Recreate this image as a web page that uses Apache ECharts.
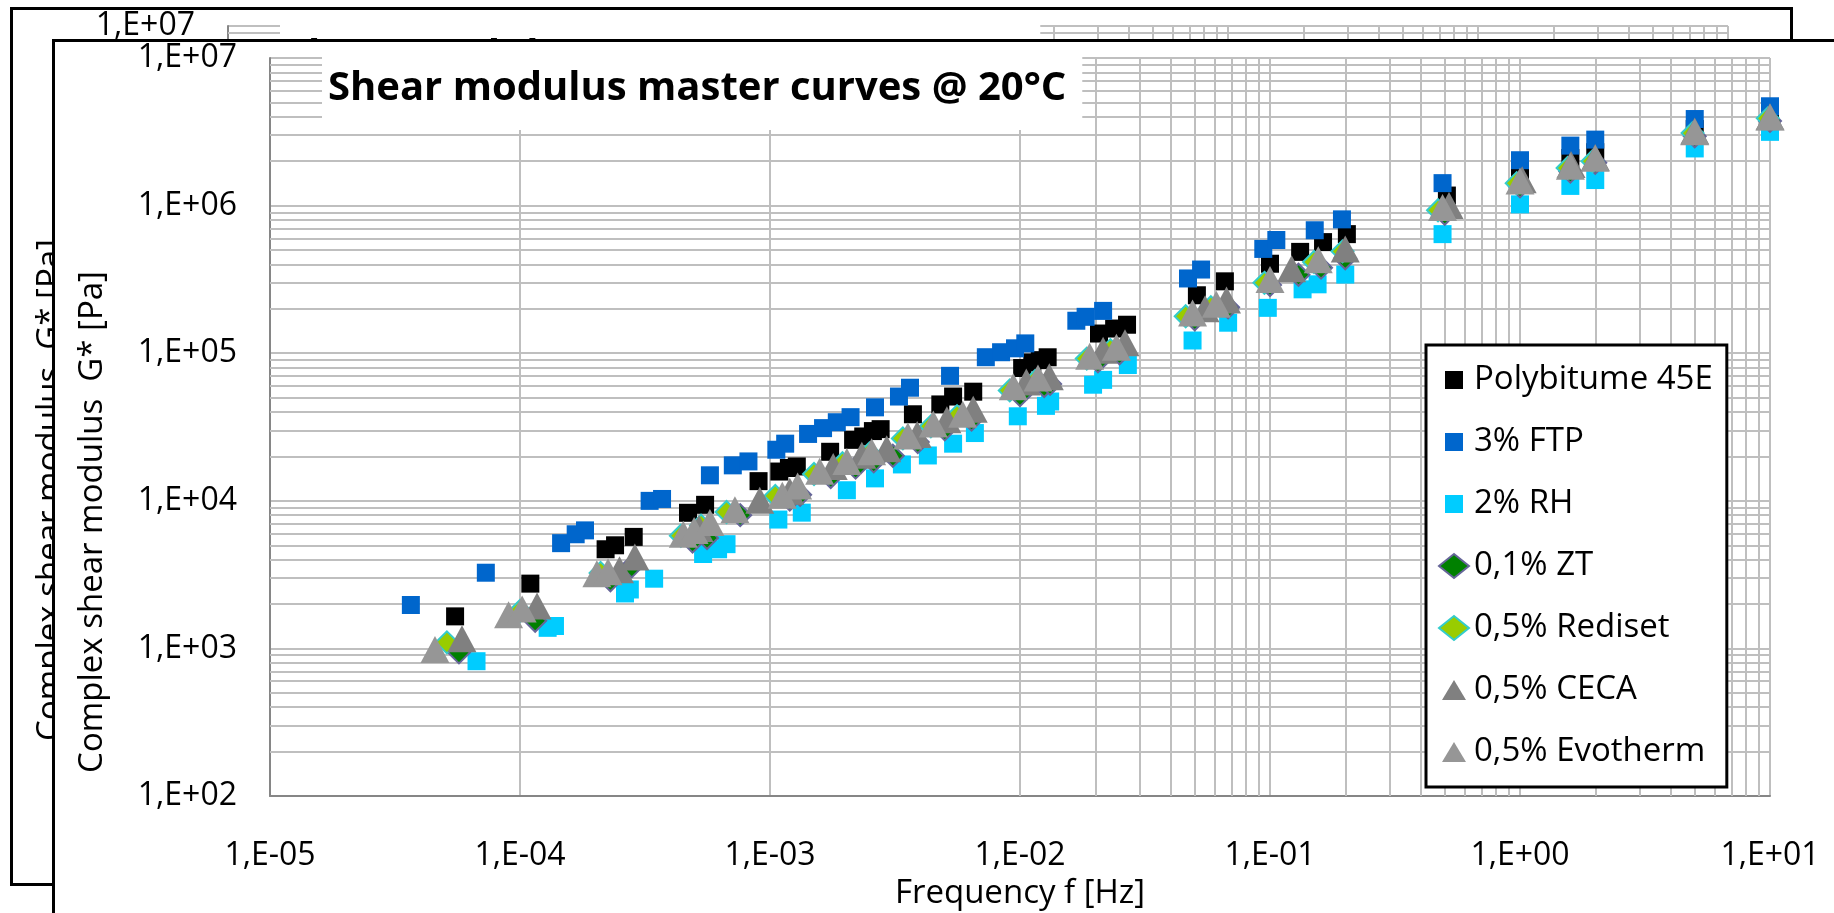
<!DOCTYPE html>
<html>
<head>
<meta charset="utf-8">
<script src="https://cdn.jsdelivr.net/npm/echarts@6/dist/echarts.min.js"></script>
<style>
  html, body { margin: 0; padding: 0; width: 1834px; height: 913px; overflow: hidden; background: #fff; }
  .chart { position: absolute; width: 1777px; height: 873px; }
  .frame { position: absolute; border: 3px solid #000; box-sizing: border-box; pointer-events: none; }
</style>
</head>
<body>
<div id="backChart" class="chart" style="left:13px; top:10px;"></div>
<div class="frame" style="left:10px; top:7px; width:1783px; height:879px;"></div>
<div id="frontChart" class="chart" style="left:55px; top:42px; background:#fff;"></div>
<div class="frame" style="left:52px; top:39px; width:1800px; height:900px;"></div>
<script>
// ---------- data (frequency [Hz], |G*| [Pa]) ----------
const titleText = 'Shear modulus master curves @ 20°C';
const xAxisTitle = 'Frequency f [Hz]';
const yAxisTitle = 'Complex shear modulus  G* [Pa]';
const xTickLabels = ['1,E-05', '1,E-04', '1,E-03', '1,E-02', '1,E-01', '1,E+00', '1,E+01'];
const yTickLabels = ['1,E+02', '1,E+03', '1,E+04', '1,E+05', '1,E+06', '1,E+07'];
const seriesNames = ['Polybitume 45E', '3% FTP', '2% RH', '0,1% ZT', '0,5% Rediset', '0,5% CECA', '0,5% Evotherm'];

const polybitume = [[5.5e-5,1650],[1.1e-4,2750],[2.2e-4,4700],[2.4e-4,5000],[2.85e-4,5700],[4.7e-4,8300],[5.5e-4,9400],[9.0e-4,13600],[1.09e-3,15800],[1.19e-3,16700],[1.28e-3,17100],[1.74e-3,21500],[2.15e-3,25900],[2.36e-3,27300],[2.58e-3,29700],[2.77e-3,30600],[3.73e-3,38600],[4.8e-3,45000],[5.4e-3,50900],[6.5e-3,54900],[0.0102,79400],[0.0112,86600],[0.012,89800],[0.0129,93900],[0.0207,136000],[0.0238,147000],[0.0268,156000],[0.051,247000],[0.066,307000],[0.1,404000],[0.132,486000],[0.163,566000],[0.203,641000],[0.51,1.17e6],[1.0,1.71e6],[1.59,2.1e6],[2.0,2.3e6],[5.0,3.3e6],[10,4.1e6]];
const ftp = [[3.66e-5,1970],[7.3e-5,3260],[1.46e-4,5170],[1.67e-4,5940],[1.82e-4,6310],[3.3e-4,10000],[3.7e-4,10300],[5.75e-4,14900],[7.1e-4,17400],[8.2e-4,18500],[1.06e-3,22200],[1.15e-3,24400],[1.42e-3,28400],[1.63e-3,31100],[1.85e-3,34100],[2.1e-3,36900],[2.63e-3,43000],[3.28e-3,50900],[3.63e-3,58400],[5.25e-3,70300],[7.3e-3,94000],[8.4e-3,101600],[9.55e-3,108000],[0.0105,116600],[0.0168,166000],[0.0183,176500],[0.0215,193600],[0.047,321000],[0.053,369000],[0.094,509000],[0.106,585000],[0.151,681000],[0.194,807000],[0.49,1.42e6],[1.0,2.03e6],[1.59,2.55e6],[2.0,2.8e6],[5.0,3.86e6],[10,4.71e6]];
const rh = [[6.7e-5,820],[1.29e-4,1380],[1.38e-4,1420],[2.63e-4,2360],[2.75e-4,2510],[3.44e-4,2970],[5.4e-4,4365],[6.2e-4,4700],[6.7e-4,5090],[1.08e-3,7470],[1.34e-3,8320],[2.03e-3,11800],[2.63e-3,14200],[3.37e-3,17650],[4.28e-3,20300],[5.4e-3,24400],[6.6e-3,28800],[9.8e-3,37400],[0.0127,44000],[0.0132,47100],[0.0196,61200],[0.0215,66000],[0.027,83200],[0.049,122000],[0.068,161000],[0.098,203000],[0.135,271000],[0.155,293000],[0.2,341000],[0.49,641000],[1.0,1.02e6],[1.59,1.36e6],[2.0,1.49e6],[5.0,2.44e6],[10,3.16e6]];
const zt = [[5.7e-5,940],[1.15e-4,1540],[2.3e-4,2900],[2.8e-4,3600],[4.9e-4,5300],[5.6e-4,5600],[7.6e-4,8000],[1.2e-3,10200],[1.32e-3,11000],[1.75e-3,14500],[2.2e-3,16800],[2.6e-3,18500],[3.1e-3,20200],[3.9e-3,25000],[5.0e-3,30500],[6.4e-3,35500],[0.01,52000],[0.0125,60000],[0.0132,62000],[0.0205,88000],[0.025,100000],[0.05,170000],[0.068,205000],[0.1,290000],[0.13,340000],[0.16,380000],[0.2,440000],[0.5,880000],[1.0,1.35e6],[1.59,1.7e6],[2.0,1.95e6],[5.0,2.95e6],[10,3.75e6]];
const rediset = [[5.1e-5,1100],[1.0e-4,1800],[2.1e-4,3250],[4.4e-4,5800],[5.3e-4,6800],[6.7e-4,8400],[1.05e-3,10800],[1.5e-3,15200],[1.95e-3,18000],[2.5e-3,21000],[3.4e-3,26500],[4.4e-3,32000],[5.6e-3,37500],[9.1e-3,56000],[0.0115,65000],[0.0185,92000],[0.023,105000],[0.046,178000],[0.058,205000],[0.095,300000],[0.15,415000],[0.195,490000],[0.47,930000],[0.97,1.42e6],[1.55,1.8e6],[1.95,2.0e6],[4.9,3.1e6],[9.8,3.9e6]];
const ceca = [[5.86e-5,1166],[1.17e-4,1940],[2.5e-4,3410],[2.88e-4,4170],[5.2e-4,6500],[9.1e-4,10100],[1.2e-3,11600],[1.79e-3,17100],[2.33e-3,20400],[2.93e-3,22500],[3.88e-3,28200],[5.1e-3,35500],[6.5e-3,41700],[0.0106,63800],[0.0131,69200],[0.0215,104700],[0.0263,118000],[0.055,200000],[0.067,229000],[0.122,374000],[0.2,509000],[0.52,1.0e6],[1.02,1.5e6],[1.6,1.9e6],[2.0,2.12e6],[5.0,3.2e6],[10,4.0e6]];
const evotherm = [[4.57e-5,985],[9.0e-5,1690],[1.02e-4,1850],[2.03e-4,3210],[2.25e-4,3310],[4.5e-4,5935],[4.97e-4,6310],[5.75e-4,7130],[7.24e-4,8710],[1.12e-3,10900],[1.29e-3,12600],[1.58e-3,15850],[2.03e-3,18500],[2.55e-3,21500],[3.56e-3,27500],[4.5e-3,33100],[5.9e-3,38600],[9.4e-3,59300],[0.0118,68000],[0.019,95500],[0.0243,110000],[0.049,187000],[0.061,215000],[0.1,316000],[0.156,430000],[0.49,970000],[1.0,1.47e6],[1.59,1.85e6],[2.0,2.09e6],[5.0,3.16e6],[10,3.98e6]];

// ---------- helpers ----------
const FONT = 'Open Sans';
function minorValues(fromExp, toExp) {
  const out = [];
  for (let k = fromExp; k < toExp; k++) {
    for (let m = 2; m <= 9; m++) out.push(m * Math.pow(10, k));
  }
  return out;
}
const squareIcon = 'path://M0,0M24,24M3,3L21,3L21,21L3,21Z';
const triIcon = 'path://M0,0M24,24M0,22L12,2L24,22Z';

function buildOption() {
  const gridMarks = minorValues(-5, 1).map(v => ({ xAxis: v }))
    .concat(minorValues(2, 7).map(v => ({ yAxis: v })));
  const sq = (name, data, color) => ({
    name, type: 'scatter', data, symbol: 'rect', symbolSize: 18,
    itemStyle: { color, opacity: 1 }, z: 3
  });
  const dia = (name, data, color, border) => ({
    name, type: 'scatter', data, symbol: 'diamond', symbolSize: 22,
    itemStyle: { color, borderColor: border, borderWidth: 2, opacity: 1 }, z: 3
  });
  const tri = (name, data, color) => ({
    name, type: 'scatter', data, symbol: 'triangle', symbolSize: [29, 27],
    itemStyle: { color, opacity: 1 }, z: 3
  });
  return {
    animation: false,
    textStyle: { fontFamily: FONT, color: '#000' },
    title: {
      text: titleText, left: 267, top: 11, z: 8,
      padding: [12, 16, 17, 6], backgroundColor: '#fff',
      textStyle: { fontFamily: FONT, fontSize: 40, fontWeight: 'bold', color: '#000', lineHeight: 48 }
    },
    legend: {
      orient: 'vertical', left: 1371, top: 303, z: 8,
      padding: [15, 14, 15, 12], itemGap: 22, itemWidth: 30, itemHeight: 24,
      backgroundColor: '#fff', borderColor: '#000', borderWidth: 3,
      textStyle: { fontFamily: FONT, fontSize: 33, lineHeight: 40, color: '#000' },
      data: [
        { name: seriesNames[0], icon: squareIcon },
        { name: seriesNames[1], icon: squareIcon },
        { name: seriesNames[2], icon: squareIcon },
        { name: seriesNames[3], icon: 'diamond' },
        { name: seriesNames[4], icon: 'diamond' },
        { name: seriesNames[5], icon: triIcon },
        { name: seriesNames[6], icon: triIcon }
      ]
    },
    grid: { left: 215, top: 11, width: 1500, height: 750 },
    xAxis: {
      type: 'log', logBase: 10, min: 1e-5, max: 10,
      name: xAxisTitle, nameLocation: 'middle', nameGap: 56,
      nameTextStyle: { fontFamily: FONT, fontSize: 33, color: '#000' },
      axisLine: { lineStyle: { color: '#868686', width: 2 } },
      axisTick: { show: false },
      splitLine: { show: true, lineStyle: { color: '#BFBFBF', width: 2 } },
      axisLabel: {
        margin: 44, fontFamily: FONT, fontSize: 32, color: '#000',
        formatter: v => xTickLabels[Math.round(Math.log10(v)) + 5]
      }
    },
    yAxis: {
      type: 'log', logBase: 10, min: 100, max: 1e7,
      axisLine: { show: true, lineStyle: { color: '#868686', width: 2 } },
      axisTick: { show: false },
      splitLine: { show: true, lineStyle: { color: '#BFBFBF', width: 2 } },
      axisLabel: {
        margin: 33, fontFamily: FONT, fontSize: 32, color: '#000',
        formatter: v => yTickLabels[Math.round(Math.log10(v)) - 2]
      }
    },
    graphic: [{
      type: 'text', x: 38, y: 480, rotation: Math.PI / 2, silent: true,
      style: { text: yAxisTitle, fontFamily: FONT, fontSize: 33, fill: '#000', align: 'center', verticalAlign: 'middle' }
    }],
    series: [
      {
        name: 'minorGrid', type: 'line', data: [], silent: true, z: 1,
        markLine: {
          z: 1, silent: true, symbol: ['none', 'none'], animation: false,
          label: { show: false }, emphasis: { disabled: true },
          lineStyle: { color: '#BFBFBF', width: 2, type: 'solid' },
          data: gridMarks
        }
      },
      sq(seriesNames[0], polybitume, '#000000'),
      sq(seriesNames[1], ftp, '#0066CC'),
      sq(seriesNames[2], rh, '#00CCFF'),
      dia(seriesNames[3], zt, '#008000', '#666699'),
      dia(seriesNames[4], rediset, '#99CC00', '#33CCCC'),
      tri(seriesNames[5], ceca, '#808080'),
      tri(seriesNames[6], evotherm, '#969696')
    ]
  };
}

const back = echarts.init(document.getElementById('backChart'), null, { renderer: 'canvas' });
back.setOption(buildOption());
const front = echarts.init(document.getElementById('frontChart'), null, { renderer: 'canvas' });
front.setOption(buildOption());
</script>
</body>
</html>
